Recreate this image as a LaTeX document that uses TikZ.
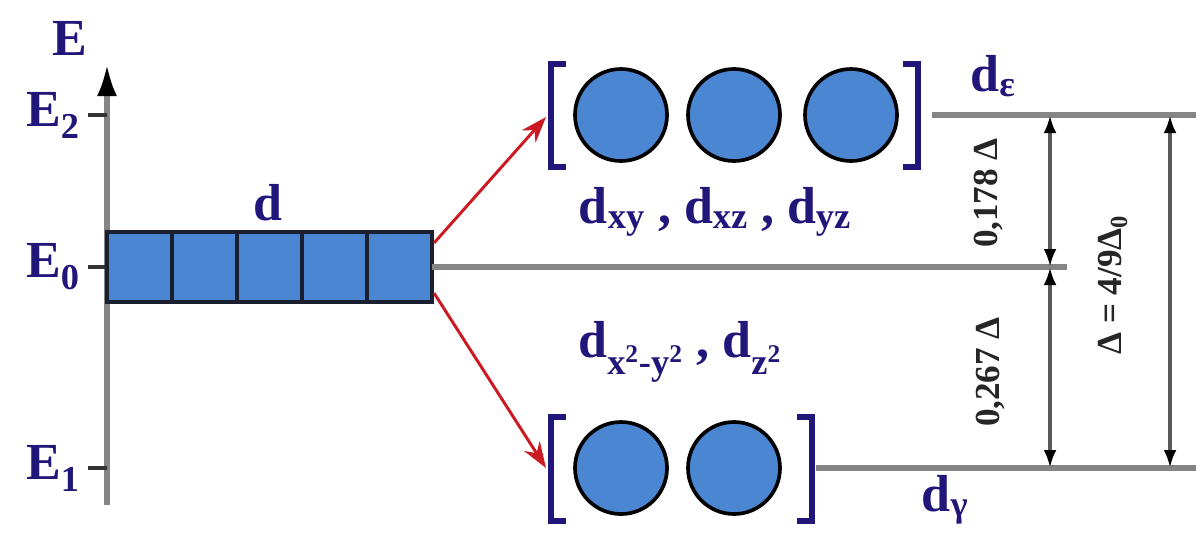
\documentclass[tikz,border=0pt]{standalone}
\usepackage{fontspec}
\setmainfont{Liberation Serif}
\usepackage{xcolor}
\usepackage{tikz}
\usetikzlibrary{arrows.meta,positioning,calc}
\definecolor{indigo}{HTML}{21177A}
\definecolor{orbblue}{HTML}{4A86D2}
\definecolor{orbedge}{HTML}{1A2030}
\definecolor{levelgray}{HTML}{858585}
\definecolor{splitred}{HTML}{CC1A22}
\tikzset{
    every picture/.style={line cap=butt,line join=miter},
    orbbox/.style={draw=orbedge,fill=orbblue,line width=2.4pt,
      minimum width=1.625cm,minimum height=1.75cm,inner sep=0pt,outer sep=0pt},
    orbring/.style={draw=black,circle,fill=orbblue,line width=2.6pt,
      minimum size=2.3cm,inner sep=0pt,outer sep=0pt},
    bracket/.style={draw=indigo,line width=3.8pt},
    level/.style={draw=levelgray,line width=3.8pt},
    tick/.style={draw=black!80,line width=2.8pt},
    splitarrow/.style={-{Stealth[length=6.5mm,width=4.6mm]},draw=splitred,
      line width=2.1pt},
    gap/.style={{Latex[length=4.5mm,width=3.2mm,color=black]}-{Latex[length=4.5mm,width=3.2mm,color=black]},
      draw=black!65,line width=2.6pt},
    levellabel/.style={text=indigo,font=\fontsize{37}{40}\selectfont\bfseries,inner sep=0pt},
    gaplabel/.style={text=black!85,font=\fontsize{25}{28}\selectfont\bfseries,
      rotate=90,inner sep=0pt}
}

\begin{document}
\begin{tikzpicture}[x=0.025cm,y=-0.025cm]
    \useasboundingbox (0,0) rectangle (1201,534);
    % energy axis with its three levels
    \coordinate (axtop) at (107,64);
    \coordinate (axbot) at (107,505);
    \draw[level,-{Latex[length=8mm,width=5mm,color=black]}] (axbot) -- (axtop);
    \node[levellabel] (elab) at (70,38) {E};
    \foreach \lv/\y in {2/115,0/267,1/468} {
        \coordinate (tk\lv) at (107,\y);
        \draw[tick] (tk\lv) -- ++(-19,0);
        \node[levellabel,anchor=east] (E\lv) at (80,\y) {E\textsubscript{\lv}};
    }
    % free ion: five degenerate d orbitals
    \foreach \i in {1,...,5}
        \node[orbbox] (d\i) at ({74.5+65*\i},267) {};
    \node[levellabel] (dlab) at (268,203) {d};
    % upper set
    \node[orbring] (t1) at (621,115) {};
    \node[orbring] (t2) at (734,115) {};
    \node[orbring] (t3) at (851,115) {};
    \draw[bracket] (566,64) -| (551,167) -- (566,167);
    \draw[bracket] (903,64) -| (918,167) -- (903,167);
    \coordinate (tin) at (546,117);
    \node[levellabel] (tlab) at (715,212)
        {d\textsubscript{xy} , d\textsubscript{xz} , d\textsubscript{yz}};
    \node[levellabel] (teps) at (993,76) {d\textsubscript{ε}};
    % lower set
    \node[orbring] (e1) at (621,468) {};
    \node[orbring] (e2) at (734,468) {};
    \draw[bracket] (566,417) -| (551,521) -- (566,521);
    \draw[bracket] (797,417) -| (812,521) -- (797,521);
    \coordinate (ein) at (546,468);
    \node[levellabel] (elab2) at (680,352)
        {d\textsubscript{x\textsuperscript{2}-y\textsuperscript{2}} , d\textsubscript{z\textsuperscript{2}}};
    \node[levellabel] (egam) at (945,500) {d\textsubscript{γ}};
    % splitting arrows
    \coordinate (sup) at (434,243);
    \coordinate (sdn) at (434,293);
    \draw[splitarrow] (sup) -- (tin);
    \draw[splitarrow] (sdn) -- (ein);
    % level lines and gaps
    \coordinate (ltop) at (1196,115);
    \coordinate (lmid) at (1067,267);
    \coordinate (lbot) at (1196,468);
    \draw[level] (932,115) -- (ltop);
    \draw[level] (d5.east) -- (lmid);
    \draw[level] (816,468) -- (lbot);
    \coordinate (g1) at (1050,115);
    \coordinate (g2) at (1050,267);
    \coordinate (g3) at (1050,468);
    \draw[gap] (g1) -- (g2);
    \draw[gap] (g2) -- (g3);
    \draw[gap] (1170,115) -- (1170,468);
    \node[gaplabel] (upgap) at (989,193) {0,178 Δ};
    \node[gaplabel] (dngap) at (991,372) {0,267 Δ};
    \node[gaplabel] (allgap) at (1113,285) {Δ = 4/9Δ\textsubscript{0}};
\end{tikzpicture}
\end{document}
